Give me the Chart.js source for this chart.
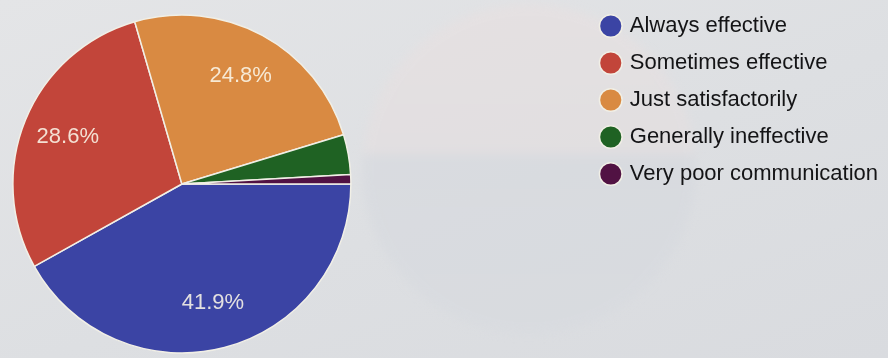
<!DOCTYPE html>
<html>
<head>
<meta charset="utf-8">
<script src="https://cdn.jsdelivr.net/npm/chart.js@4/dist/chart.umd.min.js"></script>
<style>
    html, body {
        margin: 0;
        padding: 0;
        width: 888px;
        height: 358px;
        overflow: hidden;
        position: relative;
        background: linear-gradient(160deg, #e4e5e7 0%, #dddfe2 55%, #d9dbdf 100%);
    }
    #ghost {
        position: absolute;
        left: 362px;
        top: 4px;
        width: 334px;
        height: 330px;
        border-radius: 50%;
        background: linear-gradient(to bottom, #e9e0e0 0%, #e6dfe0 44%, #d5d8de 47%, #d7dadf 100%);
        filter: blur(5px);
        opacity: 0.55;
    }
    /* canvas is wider than the window and shifted left so the pie
       lands on the left edge while the legend stays at the right */
    #wrap {
        position: absolute;
        left: -224px;
        top: 0;
        width: 1112px;
        height: 368px;
    }
</style>
</head>
<body>
<div id="ghost"></div>
<div id="wrap"><canvas id="pieChart"></canvas></div>

<script>
const categories = [
    'Always effective',
    'Sometimes effective',
    'Just satisfactorily',
    'Generally ineffective',
    'Very poor communication'
];
const percentages = [41.9, 28.6, 24.8, 3.8, 0.9];
const sliceColors = ['#3b44a4', '#c2453a', '#d98a42', '#1f6223', '#511243'];

/* ======================================================
   PERCENT LABELS INSIDE SLICES
====================================================== */
const sliceLabels = {
    id: 'sliceLabels',
    afterDatasetsDraw(chart) {
        const { ctx } = chart;
        const meta = chart.getDatasetMeta(0);

        ctx.save();
        ctx.font = '22px "Liberation Sans", Arial, sans-serif';
        ctx.textAlign = 'center';
        ctx.textBaseline = 'middle';
        ctx.fillStyle = 'rgba(250, 246, 232, 0.88)';

        meta.data.forEach((arc, i) => {
            if (percentages[i] < 5) return;
            const p = arc.getProps(['x', 'y', 'startAngle', 'endAngle', 'outerRadius'], true);
            const mid = (p.startAngle + p.endAngle) / 2;
            const r = p.outerRadius * 0.73;
            ctx.fillText(
                percentages[i].toFixed(1) + '%',
                p.x + Math.cos(mid) * r,
                p.y + Math.sin(mid) * r
            );
        });
        ctx.restore();
    }
};

new Chart(document.getElementById('pieChart'), {
    type: 'pie',
    data: {
        labels: categories,
        datasets: [{
            data: percentages,
            backgroundColor: sliceColors,
            borderColor: '#f1efe6',
            borderWidth: 1.5,
            radius: 169
        }]
    },
    options: {
        responsive: true,
        maintainAspectRatio: false,
        animation: false,
        rotation: 90,
        plugins: {
            tooltip: { enabled: false },
            legend: {
                position: 'right',
                align: 'start',
                labels: {
                    usePointStyle: true,
                    pointStyle: 'circle',
                    boxWidth: 16,
                    boxHeight: 16,
                    padding: 15,
                    color: '#141416',
                    font: {
                        family: '"Liberation Sans", Arial, sans-serif',
                        size: 22
                    }
                }
            }
        }
    },
    plugins: [sliceLabels]
});
</script>
</body>
</html>
